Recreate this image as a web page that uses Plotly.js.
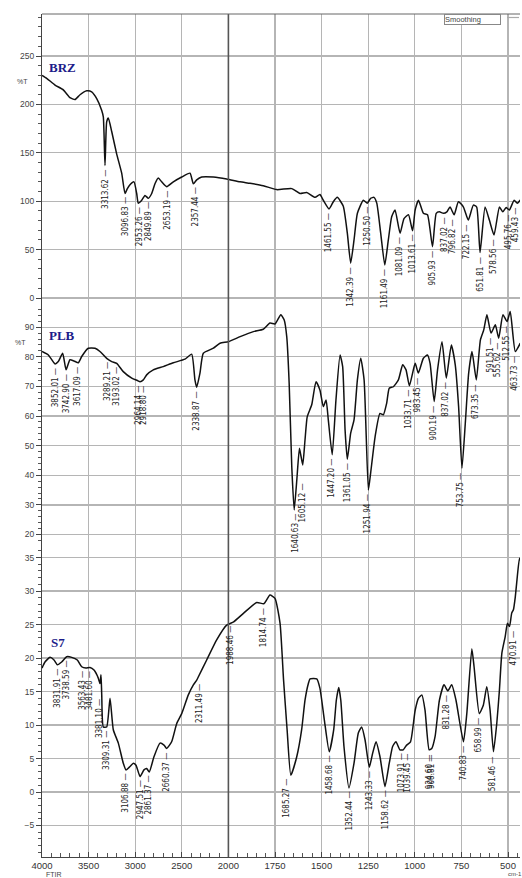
<!DOCTYPE html>
<html><head><meta charset="utf-8">
<script src="https://cdn.plot.ly/plotly-3.0.1.min.js"></script>
<style>html,body{margin:0;padding:0;background:#fff;}#chart{width:522px;height:878px;}</style>
</head><body><div id="chart"></div>
<script>
// ---- data (wavenumber cm-1, %T) ----
const brzWn=[4000,3950,3860,3771,3700,3646,3592,3520,3467,3413,
 3360,3342,3324,3306,3288,3252,3199,3145,3109,3084,
 3056,3013,2984,2967,2930,2895,2859,2823,2788,2752,
 2716,2662,2591,2501,2412,2376,2340,2286,2162,2019,
 1938,1884,1813,1741,1660,1616,1580,1535,1509,1491,
 1460,1437,1416,1384,1362,1344,1326,1308,1276,1255,
 1237,1219,1204,1183,1161,1142,1124,1106,1079,1058,
 1034,1012,998,980,954,932,905,885,868,846,
 828,811,789,766,739,713,686,668,650,623,
 600,575,546,528,510,493,467,450,426];
const brzT=[230,227,220,215,207,205,210,214,213,206,
 194,187,137,182,186,172,149,129,108,113,
 117,120,108,98,101,106,103,108,118,124,
 120,115,120,125,129,118,122,125,125,123,
 120,118.5,116,112,113,108,109,104,107,101,
 92,99.5,104,95,67,36,60,87.5,101,98,
 103,104,98,67,34,60,84,91,67,82,
 86,69.5,91,101,87.5,86,53,87.5,89,87.5,
 89,94,86,99.5,94,80.5,96,94,47,94,
 80.5,65,94,89,93.5,91,101,98,103];

const plbWn=[4000,3932,3860,3825,3778,3742,3700,3657,3610,3574,
 3503,3431,3378,3306,3252,3198,3128,3037,2977,2948,
 2913,2877,2806,2699,2591,2466,2394,2359,2340,2305,
 2269,2161,2090,2000,1937,1866,1813,1777,1750,1719,
 1701,1687,1674,1660,1647,1633,1619,1610,1601,1589,
 1577,1553,1530,1509,1491,1476,1464,1443,1423,1401,
 1387,1374,1362,1344,1326,1308,1290,1272,1249,1237,
 1213,1187,1169,1151,1137,1115,1088,1065,1047,1029,
 998,981,954,932,918,896,878,854,831,804,
 783,765,747,729,711,693,670,648,630,613,
 591,568,550,527,505,488,461,434];
const plbT=[81.8,80.6,77.6,78.4,81.2,75.6,79,78.6,78,80.1,
 82.9,82.9,81.8,79.5,78.4,77.8,75,72.8,72,71.6,
 72.2,73.9,75.6,76.7,78,79.2,80.9,72.2,69.7,74.5,
 81.2,82.9,84.6,85.1,86.8,88.5,89.3,91.4,91.1,94.2,
 92.5,86.8,71.1,42.9,28.3,38.4,49.1,46.3,43.5,51.9,
 59.8,63.8,71.6,68.8,63.2,65.4,58.7,46.9,65.4,80.6,
 76.7,55.3,45.4,54.2,58.7,72.2,79.5,72.2,35,40.7,
 53,60.9,60.4,64.3,69.4,69.9,72.2,77.3,75.6,70.2,
 77.8,74.5,79.5,80.6,77.8,64.9,75.6,85.1,72.8,84,
 77.3,63.2,42.4,57.6,74.5,81.8,72.2,85.7,89.1,94.2,
 88,90.8,86.3,94.2,91.9,95.3,81.8,84.6];

const s7Wn=[4000,3968,3914,3871,3836,3789,3735,3681,3621,3574,
 3528,3485,3442,3396,3378,3367,3359,3342,3306,3270,
 3235,3181,3128,3099,3056,3020,2991,2948,2906,2877,
 2849,2798,2734,2691,2662,2609,2555,2501,2430,2376,
 2340,2322,2233,2126,2019,1972,1918,1848,1810,1777,
 1750,1723,1704,1685,1665,1633,1607,1589,1571,1562,
 1526,1509,1485,1459,1435,1421,1408,1397,1380,1353,
 1326,1303,1285,1267,1244,1226,1208,1187,1160,1137,
 1119,1101,1080,1062,1044,1023,998,980,962,945,
 923,909,891,868,843,823,802,779,739,721,
 694,682,654,632,614,596,578,560,546,533,
 515,503,492,480,471,461,452,438,426];
const s7T=[18.5,19.4,20.1,19.7,19,19.4,20.2,20.1,19.7,18.7,
 18.5,18.6,18.2,17,16.2,17.5,14.5,9.7,9.7,14,
 9.3,7.3,4.3,3.3,3.8,4.3,4,2.3,3.3,3.5,
 3,5.3,7.3,7,6.5,7.5,10.2,11.7,14.5,16,
 16.7,17.2,19.7,22.7,24.9,25.4,26.7,28.3,28.1,29.4,
 28.9,25.2,16.7,9.3,2.5,5.3,9.3,13.7,16.2,16.9,
 16.9,15.5,10.7,6,9.3,13.7,15.6,13.7,6.8,0.6,
 4.3,8.8,9.7,7.8,3.7,5.8,7.5,5.3,0.8,4.3,
 6.8,7.5,6.3,6.3,7,7.5,12.2,14,14.5,12.2,
 6.3,6.5,8.3,13.7,16,15.1,16,13.7,7.5,11.7,
 21.4,18.7,11.7,13,15.7,12.2,6,10.3,15.2,20.7,
 23.2,25.2,24.7,26.7,27.2,29.1,31.6,34.9,34.1];

const brzLabels=["3313.62","3096.83","2953.26","2849.89","2653.19","2357.44","1461.55","1342.39","1250.50","1161.49","1081.09","1013.61","905.93","837.02","796.82","722.15","651.81","578.56","495.76","459.43"];
const plbLabels=["3852.01","3742.90","3617.09","3289.21","3193.02","2964.14","2918.80","2338.87","1640.63","1605.12","1447.20","1361.05","1251.94","1033.71","983.45","900.19","837.02","753.75","673.35","591.51","555.62","512.55","463.73"];
const s7Labels=["3831.91","3738.59","3563.43","3481.60","3381.10","3309.31","3106.88","2947.51","2861.37","2660.37","2311.49","1988.46","1814.74","1685.27","1458.68","1352.44","1243.33","1158.62","1073.91","1039.45","924.60","908.81","831.28","740.83","658.99","581.46","470.91"];

const xTicks=[4000,3500,3000,2500,2000,1750,1500,1250,1000,750,500];
const sampleNames=["BRZ","PLB","S7"];

// ---- axis scale: 2x expansion below 2000 cm-1 ----
function pos(w){return w<=2000?w:2000+(w-2000)/2;}

const W=522,H=878,L=42,R=2,T=14,B=21;
const pw=W-L-R, ph=H-T-B;
function px(xp){return (xp-L)/pw;}
function py(yp){return (H-B-yp)/ph;}

const lineStyle={color:'#111',width:1.5,shape:'spline',smoothing:0.5};
const traces=[
 {x:brzWn.map(pos),y:brzT,xaxis:'x',yaxis:'y',mode:'lines',line:lineStyle,hoverinfo:'skip',showlegend:false},
 {x:plbWn.map(pos),y:plbT,xaxis:'x',yaxis:'y2',mode:'lines',line:lineStyle,hoverinfo:'skip',showlegend:false},
 {x:s7Wn.map(pos),y:s7T,xaxis:'x',yaxis:'y3',mode:'lines',line:lineStyle,hoverinfo:'skip',showlegend:false}
];

const lblFont={family:'Liberation Sans Narrow, DejaVu Sans Condensed, Arial Narrow, sans-serif',size:8,color:'#222'};
function nearMin(wn,tv,w){let m=Infinity;for(let i=0;i<wn.length;i++){if(Math.abs(wn[i]-w)<=30&&tv[i]<m)m=tv[i];}
 if(m===Infinity){m=tv[0];}return m;}
const ann=[];
function addLabels(labels,wn,tv,yref){labels.forEach(t=>{const w=parseFloat(t);
 ann.push({xref:'x',yref:yref,x:pos(w),y:nearMin(wn,tv,w),text:t+' —',textangle:-90,showarrow:false,
 xanchor:'center',yanchor:'top',yshift:-2,font:lblFont});});}
addLabels(brzLabels,brzWn,brzT,'y');
addLabels(plbLabels,plbWn,plbT,'y2');
addLabels(s7Labels,s7Wn,s7T,'y3');

const nameFont={family:'Liberation Serif, Times New Roman, serif',size:13,color:'#1c1c8a'};
ann.push({xref:'paper',yref:'paper',x:px(47),y:py(67),text:'<b>'+sampleNames[0]+'</b>',showarrow:false,xanchor:'left',yanchor:'middle',font:nameFont});
ann.push({xref:'paper',yref:'paper',x:px(47),y:py(335),text:'<b>'+sampleNames[1]+'</b>',showarrow:false,xanchor:'left',yanchor:'middle',font:nameFont});
ann.push({xref:'paper',yref:'paper',x:px(49),y:py(643),text:'<b>'+sampleNames[2]+'</b>',showarrow:false,xanchor:'left',yanchor:'middle',font:nameFont});
const smallFont={family:'Liberation Sans, Arial, sans-serif',size:7,color:'#444'};
ann.push({xref:'paper',yref:'paper',x:px(22),y:py(82),text:'%T',showarrow:false,xanchor:'center',yanchor:'middle',font:smallFont});
ann.push({xref:'paper',yref:'paper',x:px(20),y:py(342),text:'%T',showarrow:false,xanchor:'center',yanchor:'middle',font:smallFont});
ann.push({xref:'paper',yref:'paper',x:px(444),y:1,text:'Smoothing&nbsp;&nbsp;&nbsp;&nbsp;&nbsp;&nbsp;&nbsp;&nbsp;&nbsp;',showarrow:false,xanchor:'left',yanchor:'top',
 font:{family:'Liberation Sans, Arial, sans-serif',size:7.5,color:'#444'},bordercolor:'#888',borderwidth:1,borderpad:0,bgcolor:'#fff'});
ann.push({xref:'paper',yref:'paper',x:px(44),y:py(869),text:'FTIR',showarrow:false,xanchor:'left',yanchor:'top',font:smallFont});
ann.push({xref:'paper',yref:'paper',x:px(506),y:py(869),text:'cm-1',showarrow:false,xanchor:'left',yanchor:'top',font:{family:'Liberation Sans, Arial, sans-serif',size:6,color:'#444'}});

const gridC='#b5b5b5';
const tickFont={family:'Liberation Sans, Arial, sans-serif',size:8.5,color:'#444'};
function yax(domain,range,dtick,minor){return {domain:domain,range:range,tickmode:'linear',tick0:0,dtick:dtick,
 showgrid:true,gridcolor:gridC,gridwidth:1.3,zeroline:false,showline:true,linecolor:'#444',linewidth:1,
 ticks:'outside',ticklen:5,tickcolor:'#444',tickfont:tickFont,anchor:'x',
 minor:{tickmode:'linear',tick0:0,dtick:minor,ticks:'outside',ticklen:3,tickcolor:'#555',showgrid:false}};}

const layout={width:W,height:H,margin:{l:L,r:R,t:T,b:B},paper_bgcolor:'#fff',plot_bgcolor:'#fff',showlegend:false,
 xaxis:{range:[pos(4000),435.6],tickmode:'array',tickvals:xTicks.map(pos),ticktext:xTicks.map(String),
  showgrid:true,gridcolor:gridC,gridwidth:1.3,zeroline:false,showline:true,linecolor:'#444',linewidth:1,
  ticks:'inside',ticklen:5,tickcolor:'#444',tickfont:{family:'Liberation Sans, Arial, sans-serif',size:9.5,color:'#333'},
  anchor:'y3',domain:[0,1],
  minor:{tickmode:'linear',tick0:0,dtick:50,ticks:'inside',ticklen:4,tickcolor:'#555',showgrid:false}},
 yaxis:yax([py(305),1],[-7.2,293.4],50,10),
 yaxis2:yax([py(545),py(305)],[16.45,97.5],10,2),
 yaxis3:yax([0,py(545)],[-9.7,36.87],5,1),
 shapes:[
  {type:'line',xref:'x',yref:'paper',x0:2000,x1:2000,y0:0,y1:1,line:{color:'#555',width:1.6}},
  {type:'line',xref:'paper',yref:'paper',x0:0,x1:1,y0:1,y1:1,line:{color:'#666',width:1}},
  {type:'line',xref:'paper',yref:'paper',x0:px(507),x1:px(519),y0:py(17.5),y1:py(17.5),line:{color:'#aaa',width:1.2}}
 ],
 annotations:ann};
Plotly.newPlot('chart',traces,layout,{displayModeBar:false,staticPlot:true});
</script></body></html>
